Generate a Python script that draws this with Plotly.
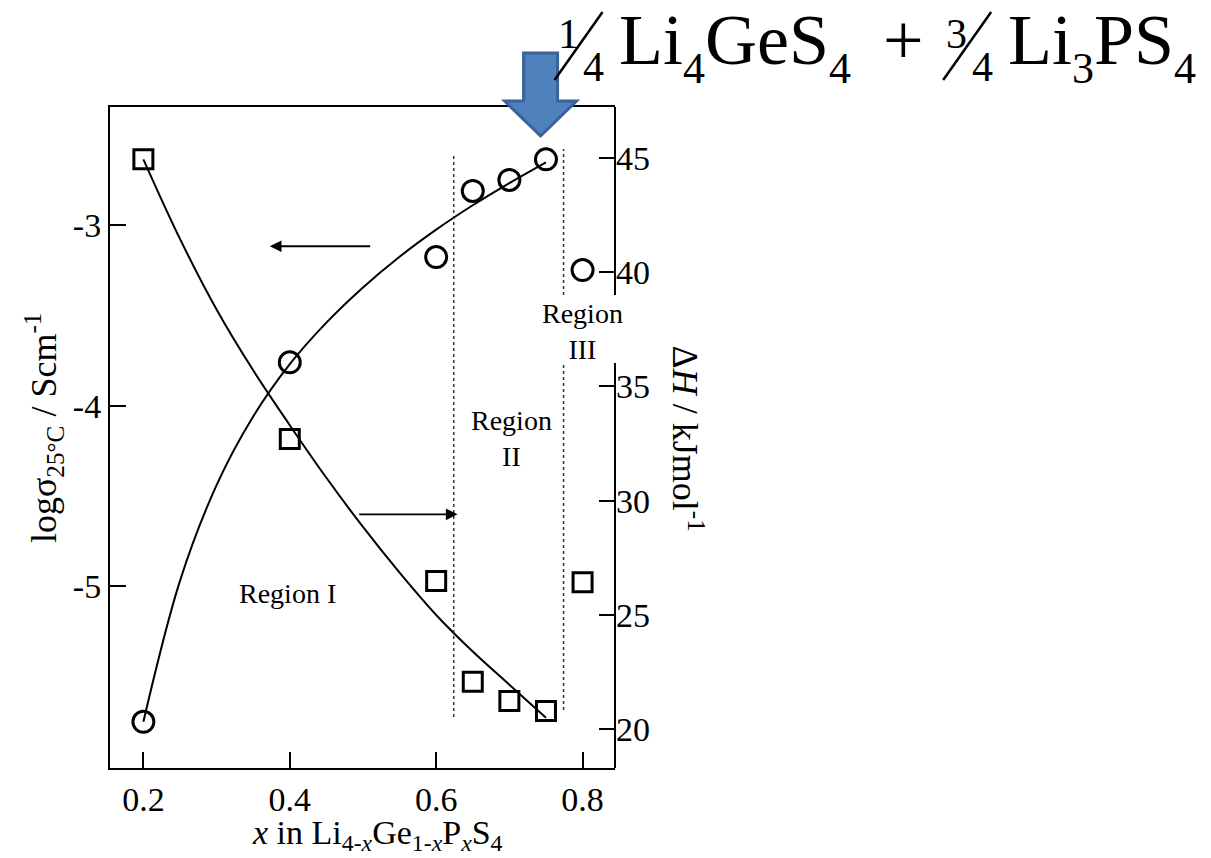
import plotly.graph_objects as go

# Measured points: composition x in Li(4-x)Ge(1-x)P(x)S4
x_sigma = [0.2, 0.4, 0.6, 0.65, 0.7, 0.75, 0.8]
log_sigma = [-5.75, -3.76, -3.177, -2.811, -2.750, -2.636, -3.249]

x_dh = [0.2, 0.4, 0.6, 0.65, 0.7, 0.75, 0.8]
delta_h = [44.93, 32.70, 26.49, 22.08, 21.24, 20.80, 26.43]

# Guide-to-the-eye curves through the Region I/II points
fit_x_sigma = [0.20, 0.25, 0.30, 0.35, 0.40, 0.45, 0.50, 0.55, 0.60, 0.65, 0.70, 0.75]
fit_sigma = [-5.75, -4.97, -4.44, -4.06, -3.77, -3.54, -3.345, -3.175, -3.025, -2.89, -2.767, -2.652]

fit_x_dh = [0.20, 0.25, 0.30, 0.35, 0.40, 0.45, 0.50, 0.55, 0.60, 0.65, 0.70, 0.75]
fit_dh = [44.93, 41.45, 38.36, 35.7, 33.3, 31.0, 28.85, 26.85, 25.0, 23.4, 21.95, 20.5]

x_ticks = [0.2, 0.4, 0.6, 0.8]
x_tick_text = ["0.2", "0.4", "0.6", "0.8"]
left_ticks = [-5, -4, -3]
left_tick_text = ["-5", "-4", "-3"]
right_ticks = [20, 25, 30, 35, 40, 45]
right_tick_text = ["20", "25", "30", "35", "40", "45"]

# Region boundaries (composition)
boundary_1 = 0.624
boundary_2 = 0.774

W, H = 1211, 858
ML, MR, MT, MB = 110, 595.5, 107, 90
PW, PH = W - ML - MR, H - MT - MB


def px(xp, yp):
    """Figure pixel position -> paper coordinates."""
    return (xp - ML) / PW, (H - MB - yp) / PH


SERIF = "Liberation Serif"
INK = "black"

fig = go.Figure()

fig.add_trace(go.Scatter(
    x=fit_x_sigma, y=fit_sigma, mode="lines",
    line=dict(color=INK, width=2, shape="spline", smoothing=1.0),
    showlegend=False, hoverinfo="skip"))
fig.add_trace(go.Scatter(
    x=fit_x_dh, y=fit_dh, mode="lines", yaxis="y2",
    line=dict(color=INK, width=2, shape="spline", smoothing=1.0),
    showlegend=False, hoverinfo="skip"))
fig.add_trace(go.Scatter(
    x=x_sigma, y=log_sigma, mode="markers",
    marker=dict(symbol="circle-open", size=21, color=INK, line=dict(width=3, color=INK)),
    showlegend=False))
fig.add_trace(go.Scatter(
    x=x_dh, y=delta_h, mode="markers", yaxis="y2",
    marker=dict(symbol="square-open", size=19, color=INK, line=dict(width=3, color=INK)),
    showlegend=False))

shapes = []
annotations = []


def seg(x0, y0, x1, y1, **line):
    a, b = px(x0, y0)
    c, d = px(x1, y1)
    shapes.append(dict(type="line", xref="paper", yref="paper",
                       x0=a, y0=b, x1=c, y1=d, line=line, layer="above"))


# dotted region boundaries
for xb, spans in [(boundary_1, [(155, 717)]), (boundary_2, [(149, 295), (363, 710)])]:
    for top, bot in spans:
        _, yt = px(0, top)
        _, yb = px(0, bot)
        shapes.append(dict(type="line", xref="x", yref="paper", x0=xb, x1=xb,
                           y0=yb, y1=yt, line=dict(color="#333", width=1.5, dash="dot")))

# right-hand frame, interrupted around the Region III label
for top, bot in [(107, 295), (363, 768)]:
    seg(615.5, top, 615.5, bot, color=INK, width=2)

# blue callout arrow pointing at x = 0.75
arrow_pts = [(524, 53), (558, 53), (558, 101), (577, 101), (541, 136),
             (505, 101), (524, 101)]
path = ""
for i, (a, b) in enumerate(arrow_pts):
    u, v = px(a, b)
    path += ("M" if i == 0 else "L") + f"{u:.4f},{v:.4f} "
path += "Z"
shapes.append(dict(type="path", xref="paper", yref="paper", path=path,
                   fillcolor="#4F81BD", line=dict(color="#3A6398", width=3), layer="above"))

# direction arrows (which curve belongs to which axis)
annotations.append(dict(x=0.3727, y=-3.117, ax=0.5119, ay=-3.117, xref="x", yref="y",
                        axref="x", ayref="y", text="", showarrow=True, arrowhead=2,
                        arrowsize=1.3, arrowwidth=1.8, arrowcolor=INK))
annotations.append(dict(x=0.6292, y=29.4, ax=0.4928, ay=29.4, xref="x", yref="y2",
                        axref="x", ayref="y2", text="", showarrow=True, arrowhead=2,
                        arrowsize=1.3, arrowwidth=1.8, arrowcolor=INK))

region_font = dict(family=SERIF, size=28, color=INK)
annotations.append(dict(x=0.397, y=-5.04, xref="x", yref="y", text="Region I",
                        showarrow=False, font=region_font))
annotations.append(dict(x=0.703, y=32.7, xref="x", yref="y2", text="Region<br>II",
                        showarrow=False, font=region_font))
annotations.append(dict(x=0.8, y=37.4, xref="x", yref="y2", text="Region<br>III",
                        showarrow=False, font=region_font))

title_font = dict(family=SERIF, size=36, color=INK)


def label(xp, yp, text, font, angle=0, xa="center", ya="middle"):
    u, v = px(xp, yp)
    annotations.append(dict(x=u, y=v, xref="paper", yref="paper", text=text,
                            textangle=angle, xanchor=xa, yanchor=ya,
                            showarrow=False, font=font))


label(44, 428, "logσ<sub>25°C</sub> / Scm<sup>-1</sup>", title_font, angle=-90)
label(689, 439, "Δ<i>H</i> / kJmol<sup>-1</sup>", title_font, angle=90)
label(378, 835, "<i>x</i> in Li<sub>4-<i>x</i></sub>Ge<sub>1-<i>x</i></sub>"
                "P<sub><i>x</i></sub>S<sub>4</sub>", dict(family=SERIF, size=34, color=INK))

# composition of the optimum sample: 1/4 Li4GeS4 + 3/4 Li3PS4
BIG = dict(family=SERIF, size=72, color=INK)
FRAC = dict(family=SERIF, size=42, color=INK)


def low(t):
    return f'<span style="font-size:44px;baseline-shift:-19px">{t}</span>'


def fraction(num, den, l_edge):
    label(l_edge - 64, 8.6, num, FRAC, xa="left", ya="top")
    label(l_edge - 38.5, 41.6, den, FRAC, xa="left", ya="top")
    seg(l_edge - 65, 80, l_edge - 17, 12, color=INK, width=2.5)


L1, L2 = 620, 1009
fraction("1", "4", L1)
label(L1 - 2, -1.5, "Li" + low("4") + "GeS" + low("4"), BIG, xa="left", ya="top")
label(882, -1.5, "+", BIG, xa="left", ya="top")
fraction("3", "4", L2)
label(L2 - 2, -1.5, "Li" + low("3") + "PS" + low("4"), BIG, xa="left", ya="top")

tick_font = dict(family=SERIF, size=34, color=INK)
fig.update_layout(
    width=W, height=H,
    margin=dict(l=ML, r=MR, t=MT, b=MB, pad=0),
    paper_bgcolor="white", plot_bgcolor="white",
    showlegend=False,
    xaxis=dict(range=[0.1544, 0.8443], tickvals=x_ticks, ticktext=x_tick_text,
               ticks="inside", ticklen=16, tickwidth=2, tickcolor=INK,
               showline=True, linecolor=INK, linewidth=2, mirror=True,
               showgrid=False, zeroline=False, tickfont=tick_font),
    yaxis=dict(range=[-6.006, -2.346], tickvals=left_ticks, ticktext=left_tick_text,
               ticks="inside", ticklen=16, tickwidth=2, tickcolor=INK,
               showline=True, linecolor=INK, linewidth=2,
               showgrid=False, zeroline=False, tickfont=tick_font),
    yaxis2=dict(range=[18.307, 47.217], tickvals=right_ticks, ticktext=right_tick_text,
                overlaying="y", side="right",
                ticks="inside", ticklen=16, tickwidth=2, tickcolor=INK,
                showline=False, showgrid=False, zeroline=False, tickfont=tick_font),
    shapes=shapes,
    annotations=annotations,
)

fig.write_html("out.html")
